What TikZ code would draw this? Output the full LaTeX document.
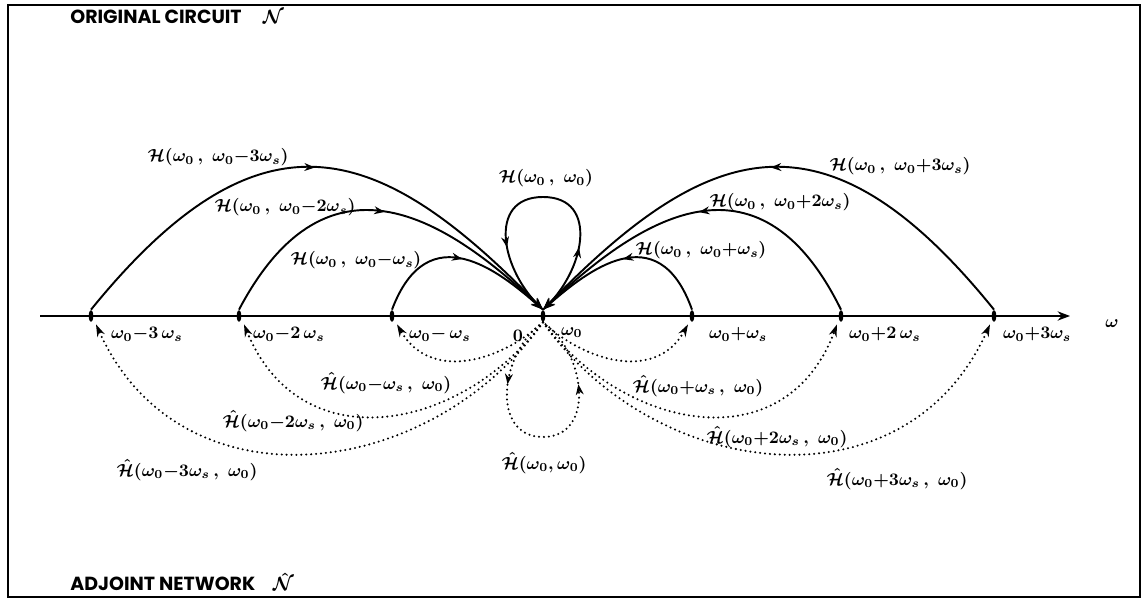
\documentclass[tikz,border=0pt]{standalone}
\usepackage{fontspec}
\setsansfont{Poppins}
\usetikzlibrary{arrows.meta, positioning, calc, shapes.geometric, decorations.markings}

\begin{document}
\begin{tikzpicture}[
    x=0.02cm, y=0.02cm,
    >=Stealth,
    framebox/.style={draw=black, line width=1.2pt},
    axisline/.style={line width=0.9pt},
    tickmark/.style={
        ellipse, fill=black, inner sep=0pt,
        minimum width=0.09cm, minimum height=0.24cm
    },
    solidarc/.style={line width=1.1pt},
    dottedarc/.style={
        line width=1.3pt, line cap=round,
        dash pattern=on 0pt off 2.8pt
    },
    midarrow/.style={
        postaction={decorate},
        decoration={markings,
            mark=at position #1 with {\arrow{Stealth[length=6pt, width=4.5pt]}}}
    },
    looparrows/.style={
        postaction={decorate},
        decoration={markings,
            mark=at position 0.25 with {\arrow{Stealth[length=6pt, width=4.5pt]}},
            mark=at position 0.75 with {\arrow{Stealth[length=6pt, width=4.5pt]}}}
    },
    titletext/.style={
        anchor=west, inner sep=0pt,
        font=\sffamily\bfseries\fontsize{10.8}{12}\selectfont
    },
    arclabel/.style={inner sep=1pt, font=\boldmath\fontsize{10}{12}\selectfont},
    ticklabel/.style={
        anchor=north west, inner sep=1pt,
        font=\boldmath\fontsize{10}{12}\selectfont
    }
]
    \useasboundingbox (0,0) rectangle (1143,602);

    % --- FRAME AND TITLES ---
    \draw[framebox] (8,5) rectangle (1140,597);
    \node[titletext] (titleorig) at (70,585)
        {ORIGINAL CIRCUIT\hspace{12pt}{\boldmath$\mathcal{N}$}};
    \node[titletext] (titleadj) at (70,20)
        {ADJOINT NETWORK\hspace{10pt}{\boldmath$\hat{\mathcal{N}}$}};

    % --- FREQUENCY AXIS ---
    \coordinate (axisstart) at (40,286);
    \coordinate (axisend) at (1070,286);
    \draw[axisline, ->] (axisstart) -- (axisend);
    \node[arclabel] (omegalab) at (1112,278) {$\omega$};

    \foreach \nm/\xx/\dx/\lab in {
        m3/91/18/{$\omega_0{-}3\,\omega_s$},
        m2/239/12/{$\omega_0{-}2\,\omega_s$},
        m1/392/15/{$\omega_0{-}\,\omega_s$},
        0/543/16/{$\omega_0$},
        p1/692/15/{$\omega_0{+}\omega_s$},
        p2/841/6/{$\omega_0{+}2\,\omega_s$},
        p3/994/7/{$\omega_0{+}3\omega_s$}
    } {
        \node[tickmark] (tick\nm) at (\xx,286) {};
        \node[ticklabel] (lab\nm) at ($(tick\nm.south)+(\dx,-3)$) {\lab};
    }
    \node[ticklabel, anchor=north east] (labzero) at ($(tick0.south)+(-18,-6)$) {$0$};

    % --- ORIGINAL CIRCUIT: solid arcs into omega_0 ---
    \draw[solidarc, midarrow=0.5, -{Stealth[length=7pt, width=5pt]}]
        (tickm3.north) .. controls (262,503) and (380,460) .. (tick0.north);
    \draw[solidarc, midarrow=0.5, -{Stealth[length=7pt, width=5pt]}]
        (tickm2.north) .. controls (329,463) and (450,380) .. (tick0.north);
    \draw[solidarc, midarrow=0.5, -{Stealth[length=7pt, width=5pt]}]
        (tickm1.north) .. controls (428,388) and (500,330) .. (tick0.north);
    \draw[solidarc, midarrow=0.5, -{Stealth[length=7pt, width=5pt]}]
        (tickp1.north) .. controls (658,388) and (586,330) .. (tick0.north);
    \draw[solidarc, midarrow=0.5, -{Stealth[length=7pt, width=5pt]}]
        (tickp2.north) .. controls (757,463) and (636,380) .. (tick0.north);
    \draw[solidarc, midarrow=0.5, -{Stealth[length=7pt, width=5pt]}]
        (tickp3.north) .. controls (824,503) and (706,460) .. (tick0.north);

    % self loop above the axis
    \coordinate (looptop) at (543,405);
    \draw[solidarc, looparrows]
        (tick0.north) .. controls (585,330) and (600,405) .. (looptop)
        .. controls (486,405) and (501,330) .. (tick0.north);

    \node[arclabel] (hm3) at (218,445) {$\mathcal{H}(\omega_0\,,\ \omega_0{-}3\omega_s)$};
    \node[arclabel] (hm2) at (285,395) {$\mathcal{H}(\omega_0\,,\ \omega_0{-}2\omega_s)$};
    \node[arclabel] (hm1) at (356,342) {$\mathcal{H}(\omega_0\,,\ \omega_0{-}\omega_s)$};
    \node[arclabel] (h00) at (546,424) {$\mathcal{H}(\omega_0\,,\ \omega_0)$};
    \node[arclabel] (hp1) at (701,352) {$\mathcal{H}(\omega_0\,,\ \omega_0{+}\omega_s)$};
    \node[arclabel] (hp2) at (780,400) {$\mathcal{H}(\omega_0\,,\ \omega_0{+}2\omega_s)$};
    \node[arclabel] (hp3) at (900,436) {$\mathcal{H}(\omega_0\,,\ \omega_0{+}3\omega_s)$};

    % --- ADJOINT NETWORK: dotted arcs out of omega_0 ---
    \draw[dottedarc, -{Stealth[length=7pt, width=4.5pt]}]
        (tick0.south) .. controls (500,240) and (430,220) .. ($(tickm1.south)+(5,-2)$);
    \draw[dottedarc, -{Stealth[length=7pt, width=4.5pt]}]
        (tick0.south) .. controls (460,170) and (300,140) .. ($(tickm2.south)+(5,-2)$);
    \draw[dottedarc, -{Stealth[length=7pt, width=4.5pt]}]
        (tick0.south) .. controls (430,120) and (180,90) .. ($(tickm3.south)+(5,-2)$);
    \draw[dottedarc, -{Stealth[length=7pt, width=4.5pt]}]
        (tick0.south) .. controls (586,240) and (656,220) .. ($(tickp1.south)+(-4,-2)$);
    \draw[dottedarc, -{Stealth[length=7pt, width=4.5pt]}]
        (tick0.south) .. controls (626,170) and (786,140) .. ($(tickp2.south)+(-4,-2)$);
    \draw[dottedarc, -{Stealth[length=7pt, width=4.5pt]}]
        (tick0.south) .. controls (656,120) and (906,90) .. ($(tickp3.south)+(-4,-2)$);

    % self loop below the axis
    \coordinate (loopbottom) at (543,165);
    \draw[dottedarc, looparrows]
        (tick0.south) .. controls (500,250) and (490,165) .. (loopbottom)
        .. controls (596,165) and (586,250) .. (tick0.south);

    \node[arclabel] (gm1) at (386,219) {$\hat{\mathcal{H}}(\omega_0{-}\omega_s\,,\ \omega_0)$};
    \node[arclabel] (gm2) at (293,181) {$\hat{\mathcal{H}}(\omega_0{-}2\omega_s\,,\ \omega_0)$};
    \node[arclabel] (gm3) at (187,132) {$\hat{\mathcal{H}}(\omega_0{-}3\omega_s\,,\ \omega_0)$};
    \node[arclabel] (g00) at (544,139) {$\hat{\mathcal{H}}(\omega_0,\omega_0)$};
    \node[arclabel] (gp1) at (698,216) {$\hat{\mathcal{H}}(\omega_0{+}\omega_s\,,\ \omega_0)$};
    \node[arclabel] (gp2) at (777,165) {$\hat{\mathcal{H}}(\omega_0{+}2\omega_s\,,\ \omega_0)$};
    \node[arclabel] (gp3) at (897,123) {$\hat{\mathcal{H}}(\omega_0{+}3\omega_s\,,\ \omega_0)$};

\end{tikzpicture}
\end{document}
